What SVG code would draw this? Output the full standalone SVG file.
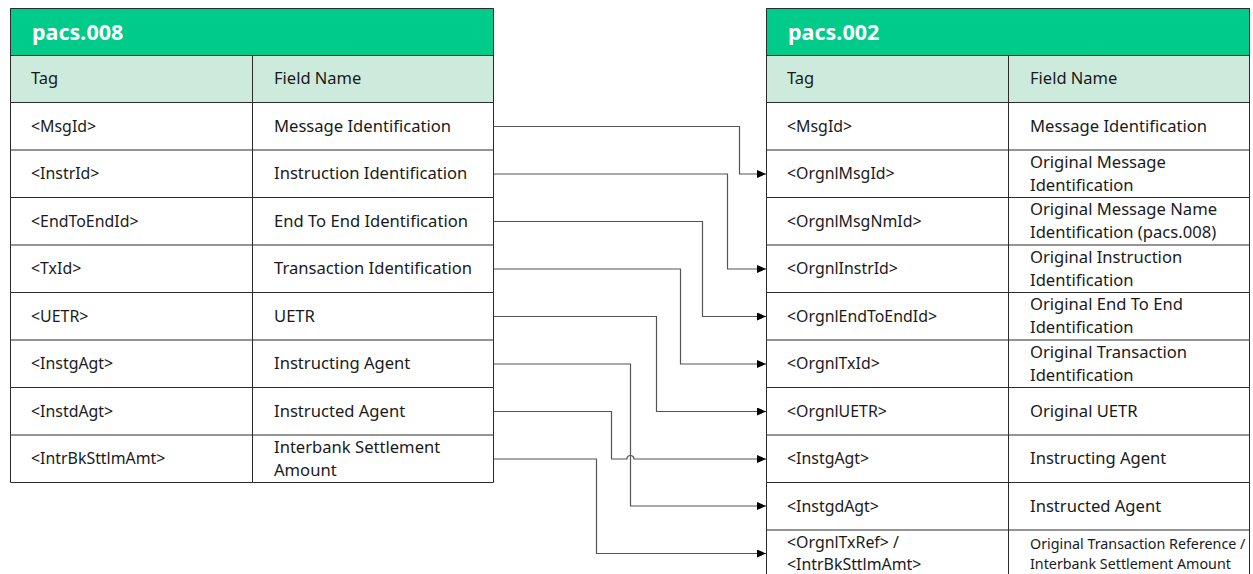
<svg xmlns="http://www.w3.org/2000/svg" width="1253" height="574" viewBox="0 0 1253 574">
  <defs>
    <style>
      .title { fill: #00CB8A; }
      .head { fill: #CCEBDC; }
      .cell { fill: #FFFFFF; }
      .grid { stroke: #2b2b2b; stroke-width: 1; fill: none; }
      .ttl { font-family: "Noto Sans", "Liberation Sans", sans-serif; font-weight: bold; font-size: 21.5px; fill: #FFFFFF; }
      .hd { font-family: "Noto Sans", "Liberation Sans", sans-serif; font-size: 16.5px; fill: #1a1a1a; }
      .tag { font-family: "Noto Sans", "Liberation Sans", sans-serif; font-size: 15.9px; fill: #1a1a1a; }
      .fld { font-family: "Noto Sans", "Liberation Sans", sans-serif; font-size: 16.6px; fill: #1a1a1a; }
      .fld-sm { font-family: "Noto Sans", "Liberation Sans", sans-serif; font-size: 14.3px; fill: #1a1a1a; }
      .conn { stroke: #555555; stroke-width: 1.2; fill: none; marker-end: url(#arrow); }
    </style>
    <marker id="arrow" markerUnits="userSpaceOnUse" markerWidth="9" markerHeight="8" refX="9" refY="4" orient="auto">
      <path d="M0,0 L9,4 L0,8 Z" fill="#000000"/>
    </marker>
  </defs>

  <!-- pacs.008 source message -->
  <g id="pacs008">
    <rect class="title" x="10" y="8" width="484" height="47"/>
    <rect class="head" x="10" y="55" width="484" height="47"/>
    <rect class="cell" x="10" y="102" width="484" height="380"/>
    <path class="grid" d="M10.5 8.5 H493.5 V482.5 H10.5 Z
      M10 55.5 H494 M10 102.5 H494 M10 150 H494 M10 197.5 H494 M10 245 H494
      M10 292.5 H494 M10 340 H494 M10 387.5 H494 M10 435 H494
      M252.5 55 V482"/>
    <text class="ttl" x="32" y="39.5">pacs.008</text>
    <text class="hd" x="31" y="84">Tag</text>
    <text class="hd" x="274" y="84">Field Name</text>

    <g id="s-msgid">
      <text class="tag" x="31" y="131.5">&lt;MsgId&gt;</text>
      <text class="fld" x="274" y="131.5">Message Identification</text>
    </g>
    <g id="s-instrid">
      <text class="tag" x="31" y="179">&lt;InstrId&gt;</text>
      <text class="fld" x="274" y="179">Instruction Identification</text>
    </g>
    <g id="s-endtoendid">
      <text class="tag" x="31" y="226.5">&lt;EndToEndId&gt;</text>
      <text class="fld" x="274" y="226.5">End To End Identification</text>
    </g>
    <g id="s-txid">
      <text class="tag" x="31" y="274">&lt;TxId&gt;</text>
      <text class="fld" x="274" y="274">Transaction Identification</text>
    </g>
    <g id="s-uetr">
      <text class="tag" x="31" y="321.5">&lt;UETR&gt;</text>
      <text class="fld" x="274" y="321.5">UETR</text>
    </g>
    <g id="s-instgagt">
      <text class="tag" x="31" y="369">&lt;InstgAgt&gt;</text>
      <text class="fld" x="274" y="369">Instructing Agent</text>
    </g>
    <g id="s-instdagt">
      <text class="tag" x="31" y="416.5">&lt;InstdAgt&gt;</text>
      <text class="fld" x="274" y="416.5">Instructed Agent</text>
    </g>
    <g id="s-intrbksttlmamt">
      <text class="tag" x="31" y="464">&lt;IntrBkSttlmAmt&gt;</text>
      <text class="fld" x="274" y="452.5">Interbank Settlement</text>
      <text class="fld" x="274" y="475.5">Amount</text>
    </g>
  </g>

  <!-- pacs.002 status report -->
  <g id="pacs002">
    <rect class="title" x="766" y="8" width="484" height="47"/>
    <rect class="head" x="766" y="55" width="484" height="47"/>
    <rect class="cell" x="766" y="102" width="484" height="480"/>
    <path class="grid" d="M766.5 582 V8.5 H1249.5 V582
      M766 55.5 H1250 M766 102.5 H1250 M766 150 H1250 M766 197.5 H1250 M766 245 H1250
      M766 292.5 H1250 M766 340 H1250 M766 387.5 H1250 M766 435 H1250 M766 482.5 H1250 M766 530 H1250
      M1008.5 55 V582"/>
    <text class="ttl" x="788" y="39.5">pacs.002</text>
    <text class="hd" x="787" y="84">Tag</text>
    <text class="hd" x="1030" y="84">Field Name</text>

    <g id="t-msgid">
      <text class="tag" x="787" y="131.5">&lt;MsgId&gt;</text>
      <text class="fld" x="1030" y="131.5">Message Identification</text>
    </g>
    <g id="t-orgnlmsgid">
      <text class="tag" x="787" y="179">&lt;OrgnlMsgId&gt;</text>
      <text class="fld" x="1030" y="167.5">Original Message</text>
      <text class="fld" x="1030" y="190.5">Identification</text>
    </g>
    <g id="t-orgnlmsgnmid">
      <text class="tag" x="787" y="226.5">&lt;OrgnlMsgNmId&gt;</text>
      <text class="fld" x="1030" y="215">Original Message Name</text>
      <text class="fld" x="1030" y="238">Identification (pacs.008)</text>
    </g>
    <g id="t-orgnlinstrid">
      <text class="tag" x="787" y="274">&lt;OrgnlInstrId&gt;</text>
      <text class="fld" x="1030" y="262.5">Original Instruction</text>
      <text class="fld" x="1030" y="285.5">Identification</text>
    </g>
    <g id="t-orgnlendtoendid">
      <text class="tag" x="787" y="321.5">&lt;OrgnlEndToEndId&gt;</text>
      <text class="fld" x="1030" y="310">Original End To End</text>
      <text class="fld" x="1030" y="333">Identification</text>
    </g>
    <g id="t-orgnltxid">
      <text class="tag" x="787" y="369">&lt;OrgnlTxId&gt;</text>
      <text class="fld" x="1030" y="357.5">Original Transaction</text>
      <text class="fld" x="1030" y="380.5">Identification</text>
    </g>
    <g id="t-orgnluetr">
      <text class="tag" x="787" y="416.5">&lt;OrgnlUETR&gt;</text>
      <text class="fld" x="1030" y="416.5">Original UETR</text>
    </g>
    <g id="t-instgagt">
      <text class="tag" x="787" y="464">&lt;InstgAgt&gt;</text>
      <text class="fld" x="1030" y="464">Instructing Agent</text>
    </g>
    <g id="t-instgdagt">
      <text class="tag" x="787" y="511.5">&lt;InstgdAgt&gt;</text>
      <text class="fld" x="1030" y="511.5">Instructed Agent</text>
    </g>
    <g id="t-orgnltxref">
      <text class="tag" x="787" y="547.5">&lt;OrgnlTxRef&gt; /</text>
      <text class="tag" x="787" y="570">&lt;IntrBkSttlmAmt&gt;</text>
      <text class="fld-sm" x="1030" y="548.5">Original Transaction Reference /</text>
      <text class="fld-sm" x="1030" y="568.5">Interbank Settlement Amount</text>
    </g>
  </g>

  <!-- field mappings -->
  <g id="connectors">
    <path class="conn" d="M494 126.5 H739.5 V174 H766"/>
    <path class="conn" d="M494 174 H727.5 V269 H766"/>
    <path class="conn" d="M494 221.5 H702.5 V316.5 H766"/>
    <path class="conn" d="M494 269 H680.5 V364 H766"/>
    <path class="conn" d="M494 316.5 H656.5 V411.5 H766"/>
    <path class="conn" d="M494 364 H630.5 V506 H766"/>
    <path class="conn" d="M494 411.5 H611.5 V459 H627 A3.5 3.5 0 0 1 634 459 H766"/>
    <path class="conn" d="M494 459 H596.5 V553.5 H766"/>
  </g>
</svg>
